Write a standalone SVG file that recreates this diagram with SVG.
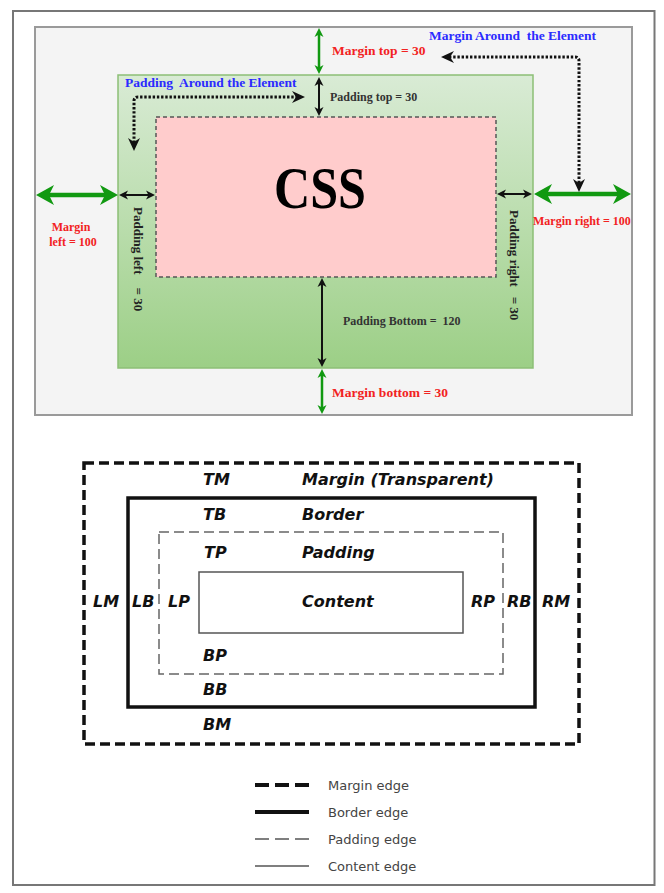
<svg xmlns="http://www.w3.org/2000/svg" width="664" height="893" viewBox="0 0 664 893">
<style>
.serif{font-family:"Liberation Serif","Times New Roman",serif;font-weight:bold}
.red{fill:#f22222}
.blue{fill:#2b2bff}
.dark{fill:#333}
.box{font-family:"DejaVu Sans",Verdana,sans-serif;font-weight:bold;font-style:italic;font-size:16px;fill:#111}
.leg{font-family:"DejaVu Sans",Verdana,sans-serif;font-size:13px;fill:#444}
.garrow{stroke:#119911;fill:none}
.barrow{stroke:#111;fill:none;stroke-width:2}
.dotted{stroke:#111;fill:none;stroke-width:3;stroke-dasharray:2.4 1.8}
</style>
<defs>
<linearGradient id="greenGrad" x1="0" y1="0" x2="0" y2="1">
<stop offset="0" stop-color="#d9ebd5"/>
<stop offset="1" stop-color="#9ccf86"/>
</linearGradient>
<marker id="gBig" viewBox="-18 -10 18 20" refX="-10" refY="0" markerWidth="18" markerHeight="20" markerUnits="userSpaceOnUse" orient="auto-start-reverse">
<path d="M0,0 L-18,-10 L-13,0 L-18,10 Z" fill="#119911"/>
</marker>
<marker id="gSmall" viewBox="-9 -5 9 10" refX="-5" refY="0" markerWidth="9" markerHeight="10" markerUnits="userSpaceOnUse" orient="auto-start-reverse">
<path d="M0,0 L-9,-4.5 L-6.5,0 L-9,4.5 Z" fill="#119911"/>
</marker>
<marker id="bSmall" viewBox="-9 -5 9 10" refX="-5" refY="0" markerWidth="9" markerHeight="10" markerUnits="userSpaceOnUse" orient="auto-start-reverse">
<path d="M0,0 L-9,-4.5 L-6.5,0 L-9,4.5 Z" fill="#111"/>
</marker>
<marker id="dHead" viewBox="-13 -6 13 12" refX="-8" refY="0" markerWidth="13" markerHeight="12" markerUnits="userSpaceOnUse" orient="auto-start-reverse">
<path d="M0,0 L-13,-6 L-9,0 L-13,6 Z" fill="#111"/>
</marker>
</defs>

<rect id="frame" x="13" y="11" width="641.5" height="874" fill="#fff" stroke="#777" stroke-width="2"/>

<g id="margin-area">
<rect x="35" y="27" width="597" height="388" fill="#f4f4f4" stroke="#9a9a9a" stroke-width="2"/>
</g>
<g id="padding-area">
<rect x="118" y="75" width="415" height="293" fill="url(#greenGrad)" stroke="#8cbf76" stroke-width="1.5"/>
</g>
<g id="content-css">
<rect x="156" y="117" width="340" height="160" fill="#ffcccc" stroke="#555" stroke-width="1.5" stroke-dasharray="4 3"/>
<text class="serif" x="320" y="208" font-size="60" text-anchor="middle" textLength="92" lengthAdjust="spacingAndGlyphs" fill="#000">CSS</text>
</g>

<g id="connectors">
<path class="garrow" stroke-width="4.5" d="M46,195 L108,195" marker-start="url(#gBig)" marker-end="url(#gBig)"/>
<path class="garrow" stroke-width="4.5" d="M544,194 L621,194" marker-start="url(#gBig)" marker-end="url(#gBig)"/>
<path class="garrow" stroke-width="2.5" d="M319,33 L319,69" marker-start="url(#gSmall)" marker-end="url(#gSmall)"/>
<path class="garrow" stroke-width="2.5" d="M322,374 L322,409" marker-start="url(#gSmall)" marker-end="url(#gSmall)"/>
<path class="barrow" d="M319,82 L319,111" marker-start="url(#bSmall)" marker-end="url(#bSmall)"/>
<path class="barrow" d="M124,195 L150,195" marker-start="url(#bSmall)" marker-end="url(#bSmall)"/>
<path class="barrow" d="M502,194 L527,194" marker-start="url(#bSmall)" marker-end="url(#bSmall)"/>
<path class="barrow" d="M322,283 L322,362" marker-start="url(#bSmall)" marker-end="url(#bSmall)"/>
<path class="dotted" d="M134,143 L134,101 Q134,97 138,97 L297,97" marker-start="url(#dHead)" marker-end="url(#dHead)"/>
<path class="dotted" d="M449,57 L575,57 Q579,57 579,61 L579,184" marker-start="url(#dHead)" marker-end="url(#dHead)"/>
</g>

<g id="labels-top">
<text class="serif red" x="332" y="55" font-size="13.5">Margin top = 30</text>
<text class="serif blue" x="429" y="40" font-size="13.5" style="white-space:pre">Margin Around  the Element</text>
<text class="serif blue" x="125" y="87" font-size="13.5" style="white-space:pre">Padding  Around the Element</text>
<text class="serif dark" x="330" y="101" font-size="12">Padding top = 30</text>
<text class="serif red" x="71" y="231" font-size="12" text-anchor="middle">Margin</text>
<text class="serif red" x="73" y="246" font-size="12" text-anchor="middle">left = 100</text>
<text class="serif" fill="#222" font-size="13" transform="translate(133.5,207) rotate(90)" style="white-space:pre">Padding left    = 30</text>
<text class="serif" fill="#222" font-size="13" transform="translate(509.5,210) rotate(90)" style="white-space:pre">Padding right   = 30</text>
<text class="serif red" x="533" y="225" font-size="12">Margin right = 100</text>
<text class="serif dark" x="343" y="325" font-size="12" style="white-space:pre">Padding Bottom =  120</text>
<text class="serif red" x="332" y="397" font-size="13.5">Margin bottom = 30</text>
</g>

<g id="margin-box">
<rect x="84" y="463" width="495" height="281" fill="none" stroke="#111" stroke-width="3.5" stroke-dasharray="10 5"/>
<text class="box" x="203" y="485">TM</text>
<text class="box" x="302" y="485">Margin (Transparent)</text>
<text class="box" x="93" y="607">LM</text>
<text class="box" x="542" y="607">RM</text>
<text class="box" x="203" y="730">BM</text>
</g>
<g id="border-box">
<rect x="128" y="498" width="407" height="209" fill="none" stroke="#111" stroke-width="3.5"/>
<text class="box" x="203" y="520">TB</text>
<text class="box" x="302" y="520">Border</text>
<text class="box" x="132" y="607">LB</text>
<text class="box" x="507" y="607">RB</text>
<text class="box" x="203" y="695">BB</text>
</g>
<g id="padding-box">
<rect x="159" y="532" width="344" height="142" fill="none" stroke="#666" stroke-width="1.5" stroke-dasharray="10 5"/>
<text class="box" x="204" y="558">TP</text>
<text class="box" x="302" y="558">Padding</text>
<text class="box" x="168" y="607">LP</text>
<text class="box" x="471" y="607">RP</text>
<text class="box" x="203" y="661">BP</text>
</g>
<g id="content-box">
<rect x="199" y="572" width="264" height="61" fill="none" stroke="#555" stroke-width="1.5"/>
<text class="box" x="302" y="607">Content</text>
</g>

<g id="legend">
<line x1="255" y1="785" x2="309" y2="785" stroke="#111" stroke-width="4" stroke-dasharray="14 6"/>
<text class="leg" x="328" y="790">Margin edge</text>
<line x1="255" y1="812" x2="309" y2="812" stroke="#111" stroke-width="4"/>
<text class="leg" x="328" y="817">Border edge</text>
<line x1="255" y1="839" x2="309" y2="839" stroke="#555" stroke-width="1.5" stroke-dasharray="14 6"/>
<text class="leg" x="328" y="844">Padding edge</text>
<line x1="255" y1="866" x2="309" y2="866" stroke="#555" stroke-width="1.5"/>
<text class="leg" x="328" y="871">Content edge</text>
</g>
</svg>
